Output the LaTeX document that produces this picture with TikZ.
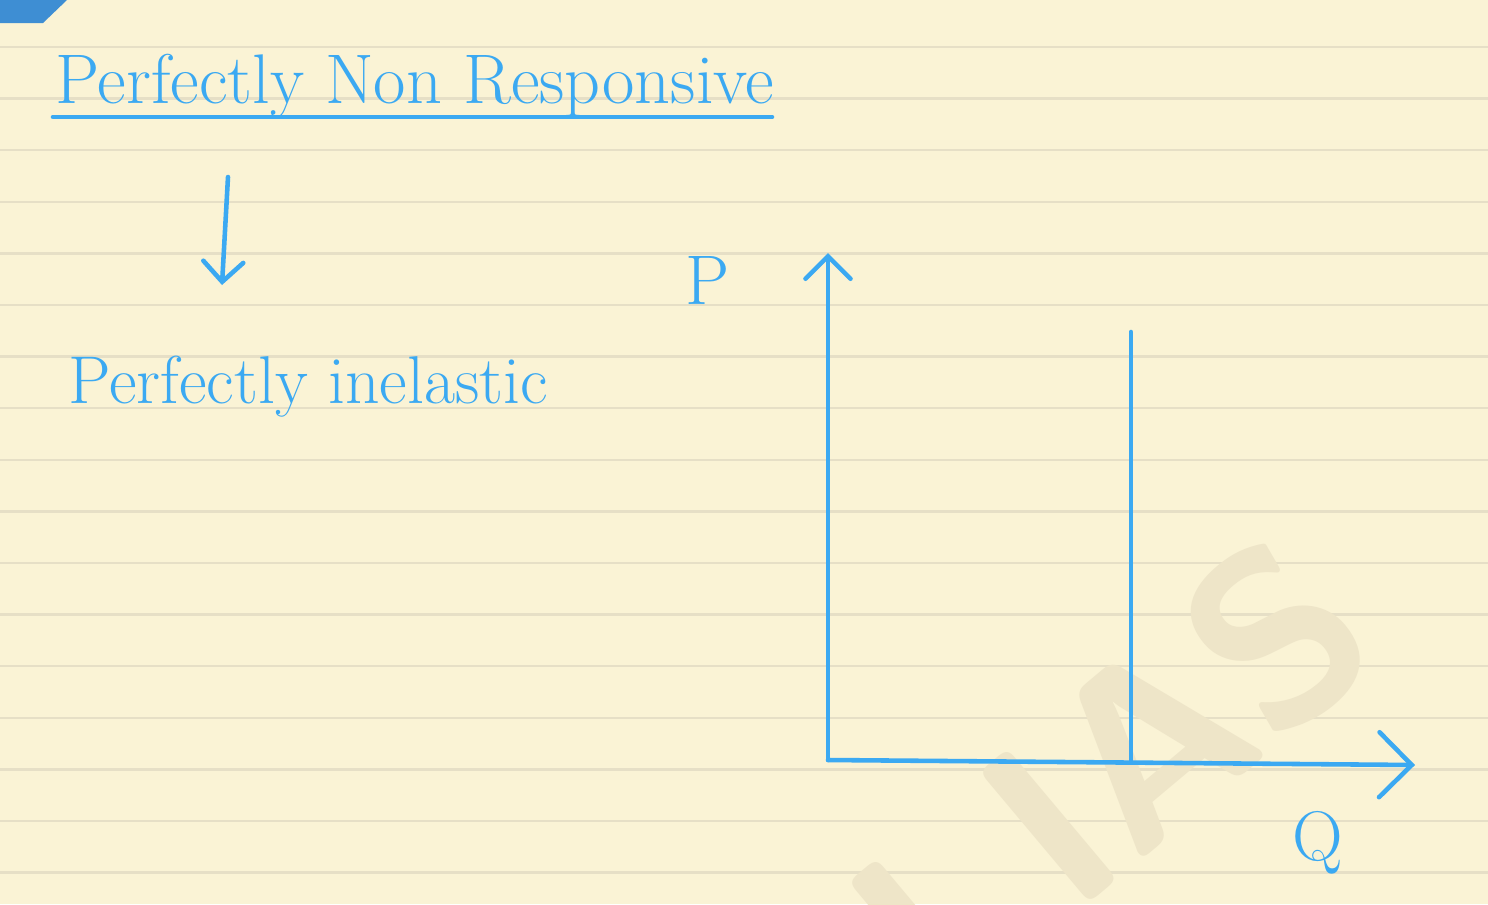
\documentclass[tikz,border=0pt]{standalone}
\usepackage{xcolor}
\usepackage{tikz}
\usetikzlibrary{arrows.meta,positioning,calc}
\definecolor{paper}{RGB}{250,243,213}
\definecolor{ruled}{RGB}{230,223,198}
\definecolor{ink}{RGB}{59,169,242}
\definecolor{tabblue}{RGB}{62,142,211}
\definecolor{wmark}{RGB}{238,229,200}

\begin{document}
\begin{tikzpicture}[x=0.02cm,y=-0.02cm,
  pen/.style={draw=ink,line width=2.6pt,line cap=round,line join=round},
  hand/.style={text=ink,inner sep=0pt,anchor=base west,
               font=\fontsize{38.5}{42}\selectfont},
  lab/.style={hand,anchor=base,font=\fontsize{40}{44}\selectfont},
  barb/.style={-{Straight Barb[length=#1,width=2*#1,line cap=round]}},
  barb/.default=7mm
]
% paper
\useasboundingbox (0,0) rectangle (1488,904);
\fill[paper] (0,0) rectangle (1488,904);
\foreach \i in {0,...,16}
  \draw[ruled,line width=1.3pt] (0,47+51.6*\i) -- (1488,47+51.6*\i);
\fill[tabblue] (0,0) -- (67,0) -- (43,23) -- (0,23) -- cycle;
\node[rotate=40,text=wmark,inner sep=0pt,
      font=\sffamily\bfseries\fontsize{140}{140}\selectfont] (wm) at (1110,775) {I IAS};

% headings
\node[hand,font=\fontsize{40}{44}\selectfont] (title) at (55,103) {Perfectly Non Responsive};
\coordinate (ulstart) at (53,117);
\coordinate (ulend) at (772,117);
\draw[pen] (ulstart) -- (ulend);

\node[hand] (inel) at (68,403) {Perfectly inelastic};
\coordinate (arrtop) at (228,177);
\coordinate (arrtip) at (222,285);
\draw[pen,barb=4mm] (arrtop) -- (arrtip);

% axes
\coordinate (origin) at (828,760);
\coordinate (ytop) at (828,253);
\coordinate (xend) at (1415,765);
\draw[pen,barb=4.5mm] (origin) -- (ytop);
\draw[pen,barb=6.5mm] (origin) -- (xend);
\node[lab] (plab) at (708,304) {P};
\node[lab] (qlab) at (1318,860) {Q};

% supply curve
\coordinate (stop) at (1131,332);
\draw[pen] (stop) -- (stop |- origin);
\end{tikzpicture}
\end{document}
